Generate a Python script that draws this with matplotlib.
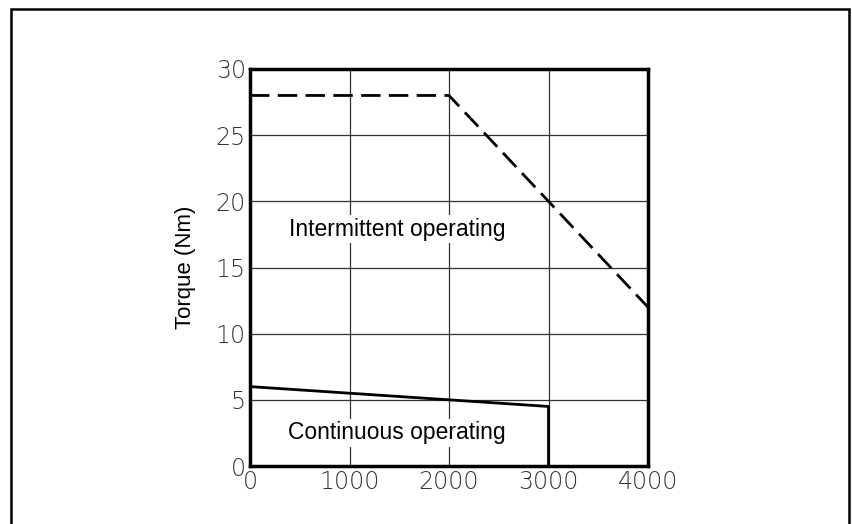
import matplotlib.pyplot as plt
from matplotlib.patches import Rectangle

# 数据
speed_inter = [0, 2000, 3000, 4000]
torque_inter = [28, 28, 20, 12]
speed_cont = [0, 3000, 3000]
torque_cont = [6, 4.5, 0]
xticks = [0, 1000, 2000, 3000, 4000]
yticks = [0, 5, 10, 15, 20, 25, 30]

fig = plt.figure(figsize=(8.52, 5.24), dpi=100)
ax = fig.add_axes([250 / 852, 1 - 466 / 524, 398 / 852, 397 / 524])

# 外框
fig.patches.append(Rectangle((11 / 852, -0.05), 838 / 852, 1 - 9 / 524 + 0.05,
                             transform=fig.transFigure, fill=False,
                             edgecolor='black', linewidth=1.8))

ax.plot(speed_inter, torque_inter, color='black', linewidth=2,
        linestyle=(0, (7, 3)), zorder=3)
ax.plot(speed_cont, torque_cont, color='black', linewidth=2, zorder=3)

ax.set_xlim(0, 4000)
ax.set_ylim(0, 30)
ax.set_xticks(xticks)
ax.set_yticks(yticks)
ax.grid(True, color='#333333', linewidth=0.9)
ax.tick_params(length=0, pad=3)
for lab in ax.get_xticklabels() + ax.get_yticklabels():
    lab.set_fontfamily('DejaVu Sans')
    lab.set_fontweight('light')
    lab.set_fontsize(17)
    lab.set_color('#333333')
for s in ax.spines.values():
    s.set_linewidth(2.5)

ax.set_ylabel('Torque (Nm)', fontfamily='Liberation Sans', fontsize=16, labelpad=14)

ax.text(1480, 17.9, 'Intermittent operating', fontfamily='Liberation Sans',
        fontsize=16.5, ha='center', va='center',
        bbox=dict(facecolor='white', edgecolor='none', pad=2), zorder=4)
ax.text(1480, 2.5, 'Continuous operating', fontfamily='Liberation Sans',
        fontsize=16.5, ha='center', va='center',
        bbox=dict(facecolor='white', edgecolor='none', pad=2), zorder=4)

fig.savefig('out.png', dpi=100)
